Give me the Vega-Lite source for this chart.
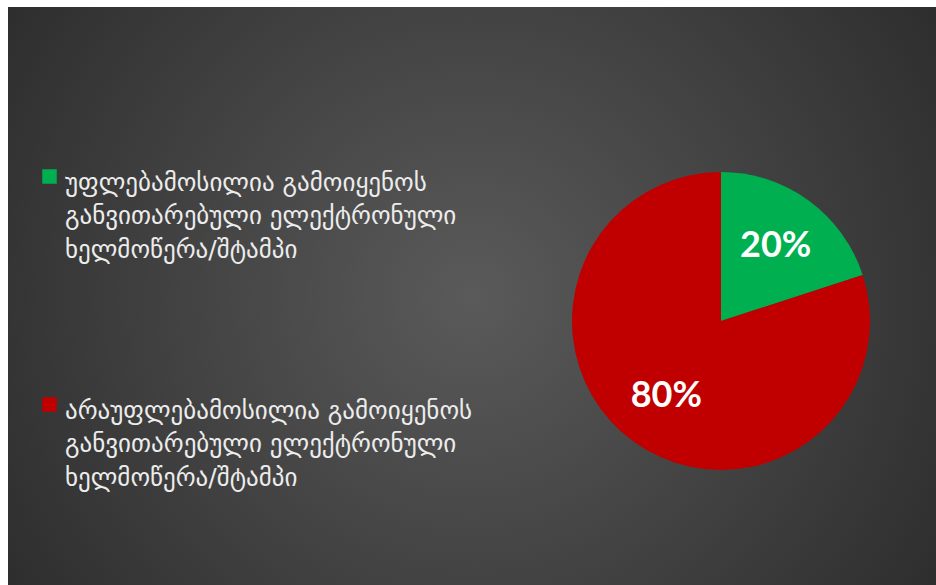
{
  "$schema": "https://vega.github.io/schema/vega-lite/v6.json",
  "width": 936,
  "height": 585,
  "autosize": {"type": "fit", "contains": "padding"},
  "padding": {"left": 8, "top": 7, "right": 0, "bottom": 0},
  "background": "white",
  "config": {"view": {"stroke": null}},
  "datasets": {
    "shares": [
      {"category": "უფლებამოსილია გამოიყენოს\nგანვითარებული ელექტრონული\nხელმოწერა/შტამპი", "value": 20, "label": "20%"},
      {"category": "არაუფლებამოსილია გამოიყენოს\nგანვითარებული ელექტრონული\nხელმოწერა/შტამპი", "value": 80, "label": "80%"}
    ],
    "bg": [{"panel": "background"}]
  },
  "layer": [
    {
      "data": {"name": "bg"},
      "mark": {
        "type": "rect",
        "x": 0,
        "y": 0,
        "x2": {"expr": "width"},
        "y2": {"expr": "height"},
        "fill": {
          "gradient": "radial",
          "x1": 0.5, "y1": 0.5, "r1": 0,
          "x2": 0.5, "y2": 0.5, "r2": 0.72,
          "stops": [
            {"offset": 0, "color": "#5a5a5a"},
            {"offset": 1, "color": "#242424"}
          ]
        }
      },
      "encoding": {}
    },
    {
      "data": {"name": "shares"},
      "mark": {"type": "arc", "outerRadius": 149, "x": 713, "y": 314},
      "encoding": {
        "theta": {"field": "value", "type": "quantitative", "stack": true},
        "order": {"field": "value", "type": "quantitative", "sort": "ascending"},
        "color": {
          "field": "category",
          "type": "nominal",
          "scale": {
            "domain": [
              "უფლებამოსილია გამოიყენოს\nგანვითარებული ელექტრონული\nხელმოწერა/შტამპი",
              "არაუფლებამოსილია გამოიყენოს\nგანვითარებული ელექტრონული\nხელმოწერა/შტამპი"
            ],
            "range": ["#00B050", "#C00000"]
          },
          "legend": {
            "title": null,
            "orient": "none",
            "legendX": 29,
            "legendY": 157,
            "symbolType": "square",
            "symbolSize": 210,
            "symbolStrokeWidth": 0,
            "symbolOpacity": 1,
            "labelExpr": "split(datum.label, '\\n')",
            "labelFont": "DejaVu Sans",
            "labelFontSize": 25,
            "labelColor": "#ececec",
            "labelLimit": 700,
            "labelOffset": 3,
            "labelBaseline": "top",
            "rowPadding": 129,
            "encode": {
              "labels": {"update": {"lineHeight": {"value": 33.5}, "dy": {"value": -6}}}
            }
          }
        }
      }
    },
    {
      "data": {"name": "shares"},
      "mark": {
        "type": "text",
        "radius": 93,
        "x": 713,
        "y": 314,
        "font": "Lato",
        "fontSize": 36,
        "fontWeight": "bold",
        "fill": "white"
      },
      "encoding": {
        "theta": {"field": "value", "type": "quantitative", "stack": true},
        "order": {"field": "value", "type": "quantitative", "sort": "ascending"},
        "text": {"field": "label"}
      }
    }
  ]
}
